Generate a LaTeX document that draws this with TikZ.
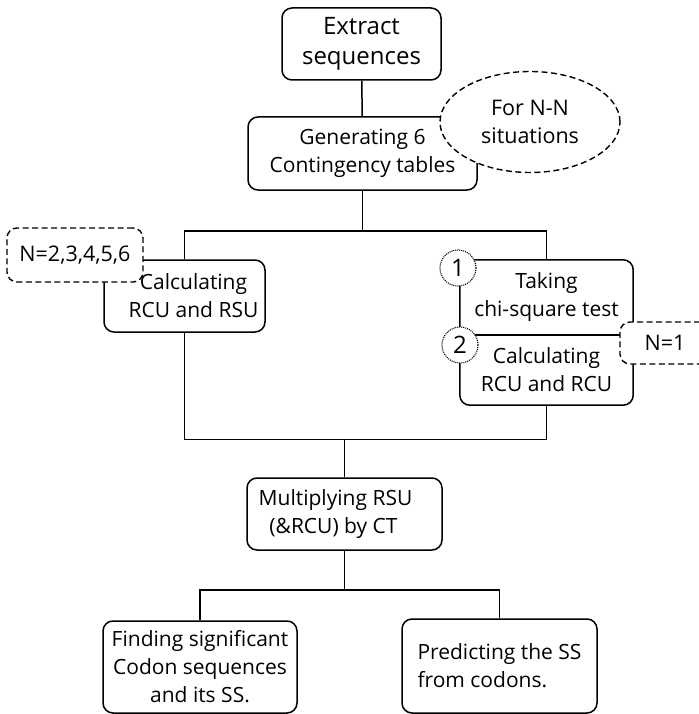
\documentclass[tikz,border=0pt]{standalone}
\usepackage{fontspec}
\setmainfont{Open Sans}
\usetikzlibrary{shapes.geometric}
\tikzset{
  stepbox/.style={draw, line width=1.5pt, rounded corners=10pt, align=center,
    inner sep=2pt, font=\fontsize{21}{28}\selectfont},
  halfbox/.style={minimum width=173pt, align=center, inner sep=2pt,
    font=\fontsize{21}{28}\selectfont},
  notebox/.style={draw, dash pattern=on 6pt off 3.5pt, line width=1.4pt, fill=white,
    rounded corners=10pt, align=center, font=\fontsize{21.5}{28}\selectfont},
  numcirc/.style={circle, draw, dash pattern=on 1pt off 1pt, line width=1.1pt, fill=white,
    minimum size=36pt, inner sep=0pt, font=\fontsize{24}{24}\selectfont},
  link/.style={line width=1.5pt},
}
\begin{document}
\begin{tikzpicture}[x=1pt,y=-1pt]
\useasboundingbox (0,0) rectangle (698,714);
% main steps
\node[stepbox, minimum width=159pt, minimum height=72pt, font=\fontsize{24}{30}\selectfont]
  (extract) at (361.5,44) {Extract\\sequences};
\node[stepbox, minimum width=229pt, minimum height=73pt] (tables) at (362.5,153.5)
  {Generating 6\\Contingency tables};
\node[stepbox, minimum width=161pt, minimum height=72pt] (rsu) at (184.5,296)
  {\hspace*{18pt}Calculating\\\hspace*{18pt}RCU and RSU};
% right branch, one box in two parts
\node[halfbox, minimum height=75pt] (chisq) at (546.5,297.5) {Taking\\chi-square test};
\node[halfbox, minimum height=70pt] (rcu) at (546.5,370) {Calculating\\RCU and RCU};
\draw[link, rounded corners=10pt] (chisq.north west) rectangle (rcu.south east);
\draw[link] (chisq.south west) -- (chisq.south east);
\node[stepbox, minimum width=195pt, minimum height=72pt] (mult) at (344.5,514)
  {Multiplying RSU\hspace*{18pt}\\(\&RCU) by CT\hspace*{22pt}};
\node[stepbox, minimum width=194pt, minimum height=92pt] (find) at (200,667)
  {Finding significant\\Codon sequences\\and its SS.};
\node[stepbox, minimum width=195pt, minimum height=94pt, align=left] (predict) at (499.5,666)
  {Predicting the SS\\from codons.};
% connectors
\coordinate (split) at (362.5,231);
\coordinate (merge) at (344.5,439.5);
\coordinate (fork) at (344.5,590);
\draw[link] (extract) -- (tables);
\draw[link] (tables) -- (split);
\draw[link] (rsu.north) |- (split) -| (chisq.north);
\draw[link] (rsu.south) |- (merge) -| (rcu.south);
\draw[link] (merge) -- (mult);
\draw[link] (mult) -- (fork);
\draw[link] (find.north) |- (fork) -| (predict.north);
% notes on top
\node[notebox, ellipse, minimum width=180pt, minimum height=101pt] (nn) at (530,122)
  {For N-N\\situations};
\node[notebox, minimum width=136pt, minimum height=54pt] (many) at (75,255) {N=2,3,4,5,6};
\node[notebox, minimum width=90pt, minimum height=42pt] (one) at (665,343) {N=1};
\node[numcirc] (first) at (458,268) {1};
\node[numcirc] (second) at (460,345) {2};
\end{tikzpicture}
\end{document}
